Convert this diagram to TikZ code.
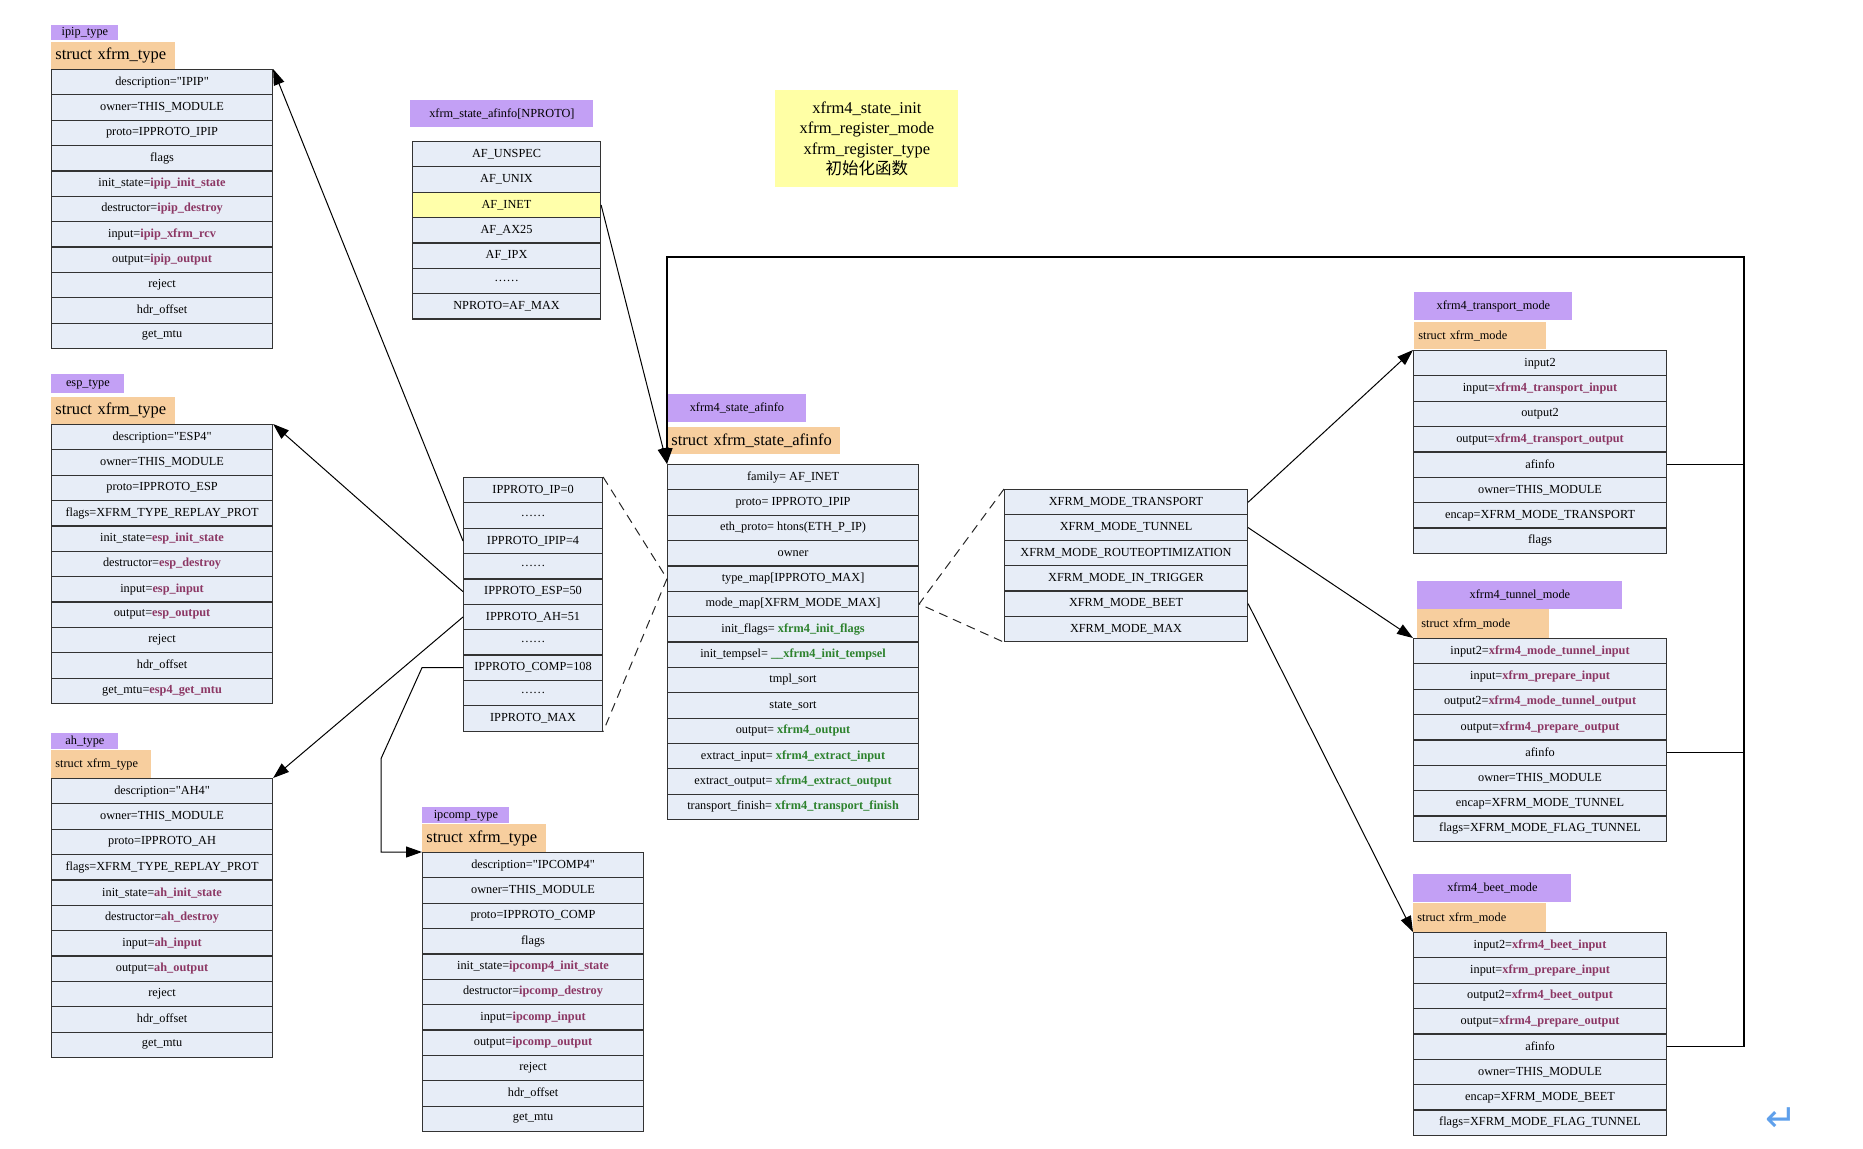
\documentclass[tikz,border=0pt]{standalone}
\usepackage{fontspec}
\setmainfont{Liberation Serif}[Ligatures=TeXOff]
\newfontfamily\cjkf{Noto Sans CJK SC}
\newfontfamily\djvf{DejaVu Sans}
\usetikzlibrary{arrows.meta}
\definecolor{rowc}{RGB}{231,237,247}
\definecolor{lblc}{RGB}{195,160,245}
\definecolor{hdrc}{RGB}{247,206,158}
\definecolor{notec}{RGB}{255,255,165}
\definecolor{hlc}{RGB}{255,255,170}
\definecolor{fnc}{RGB}{140,55,100}
\definecolor{gnc}{RGB}{45,130,45}
\definecolor{retc}{RGB}{95,160,235}
\newcommand\fnx[1]{\textbf{\color{fnc}#1}}
\newcommand\gnx[1]{\textbf{\color{gnc}#1}}
\newcommand\sixdots{……}
\newcommand\myrowfont{\fontsize{6.15pt}{7.2pt}\selectfont}
\newcommand\mybigfont{\fontsize{8.25pt}{10.1pt}\selectfont}
\def\myrowh{25.35}
\tikzset{
  row/.style={draw=black!80, line width=0.55pt, fill=rowc, anchor=north west, inner sep=0pt,
    minimum height={\myrowh*0.5pt}, font=\myrowfont},
  lbl/.style={fill=lblc, anchor=north west, inner sep=0pt, font=\myrowfont},
  hdr/.style={fill=hdrc, anchor=north west, inner xsep=2pt, inner ysep=0pt, align=left},
  conn/.style={draw=black, line width=0.5pt},
  arr/.style={conn, -{Triangle[length=8pt,width=5.5pt]}},
  dsh/.style={draw=black!85, line width=0.5pt, dash pattern=on 4.5pt off 3pt},
  loop/.style={draw=black, line width=0.6pt},
}
\newcommand\mktable[5]{\foreach \txt [count=\i] in {#5} {\node[row, minimum width={(#3-#2)*0.5pt}] (#1-\i) at (#2,{#4+(\i-1)*\myrowh}) {\txt};}}
\newcommand\mklbl[6]{\node[lbl, minimum width={(#3-#2)*0.5pt}, minimum height={(#5-#4)*0.5pt}] (#1) at (#2,#4) {#6};}
\newcommand\mkhdr[7]{\node[hdr, font=#6, text width={(#3-#2-8)*0.5pt}, minimum height={(#5-#4)*0.5pt}] (#1) at (#2,#4) {#7};}
\begin{document}
\catcode`\_=12
\begin{tikzpicture}[x=0.5pt, y=-0.5pt]
\useasboundingbox (0,0) rectangle (1863,1148);

% ---------- ipip ----------
\mklbl{ipipL}{51}{118}{25}{40}{ipip_type}
\mkhdr{ipipH}{51}{175}{42}{69}{\mybigfont}{struct xfrm_type}
\mktable{ipip}{51}{272}{69}{description="IPIP", owner=THIS_MODULE, proto=IPPROTO_IPIP, flags,
  init_state=\fnx{ipip_init_state}, destructor=\fnx{ipip_destroy}, input=\fnx{ipip_xfrm_rcv},
  output=\fnx{ipip_output}, reject, hdr_offset, get_mtu}

% ---------- esp ----------
\mklbl{espL}{51}{124}{374}{393}{esp_type}
\mkhdr{espH}{51}{175}{397}{424}{\mybigfont}{struct xfrm_type}
\mktable{esp}{51}{272}{424}{description="ESP4", owner=THIS_MODULE, proto=IPPROTO_ESP, flags=XFRM_TYPE_REPLAY_PROT,
  init_state=\fnx{esp_init_state}, destructor=\fnx{esp_destroy}, input=\fnx{esp_input},
  output=\fnx{esp_output}, reject, hdr_offset, get_mtu=\fnx{esp4_get_mtu}}

% ---------- ah ----------
\mklbl{ahL}{51}{118}{733}{749}{ah_type}
\mkhdr{ahH}{51}{151}{750}{778}{\myrowfont}{struct xfrm_type}
\mktable{ah}{51}{272}{778}{description="AH4", owner=THIS_MODULE, proto=IPPROTO_AH, flags=XFRM_TYPE_REPLAY_PROT,
  init_state=\fnx{ah_init_state}, destructor=\fnx{ah_destroy}, input=\fnx{ah_input},
  output=\fnx{ah_output}, reject, hdr_offset, get_mtu}

% ---------- ipcomp ----------
\mklbl{ipcL}{422}{509}{807}{823}{ipcomp_type}
\mkhdr{ipcH}{422}{546}{824}{852}{\mybigfont}{struct xfrm_type}
\mktable{ipc}{422}{643}{852}{description="IPCOMP4", owner=THIS_MODULE, proto=IPPROTO_COMP, flags,
  init_state=\fnx{ipcomp4_init_state}, destructor=\fnx{ipcomp_destroy}, input=\fnx{ipcomp_input},
  output=\fnx{ipcomp_output}, reject, hdr_offset, get_mtu}

% ---------- xfrm_state_afinfo[NPROTO] ----------
\mklbl{afL}{410}{593}{100}{127}{xfrm_state_afinfo[NPROTO]}
\foreach \txt/\fc [count=\i] in {AF_UNSPEC/rowc, AF_UNIX/rowc, AF_INET/hlc, AF_AX25/rowc, AF_IPX/rowc, \sixdots/rowc, NPROTO=AF_MAX/rowc}
  {\node[row, fill=\fc, minimum width={(600-412)*0.5pt}] (af-\i) at (412,{141+(\i-1)*\myrowh}) {\txt};}

% ---------- note ----------
\node[fill=notec, anchor=north west, inner sep=0pt, minimum width={(958-775)*0.5pt}, minimum height={(187-90)*0.5pt},
  align=center, font=\mybigfont] (note) at (775,90)
  {xfrm4_state_init\\xfrm_register_mode\\xfrm_register_type\\{\cjkf 初始化函数}};

% ---------- IPPROTO array ----------
\mktable{ipp}{463}{602}{477}{IPPROTO_IP=0, \sixdots, IPPROTO_IPIP=4, \sixdots, IPPROTO_ESP=50, IPPROTO_AH=51,
  \sixdots, IPPROTO_COMP=108, \sixdots, IPPROTO_MAX}

% ---------- xfrm4_state_afinfo ----------
\mklbl{saL}{667}{806}{394}{422}{xfrm4_state_afinfo}
\mkhdr{saH}{667}{840}{427}{454}{\mybigfont}{struct xfrm_state_afinfo}
\mktable{sa}{667}{918}{464}{family= AF_INET, proto= IPPROTO_IPIP, eth_proto= htons(ETH_P_IP), owner,
  type_map[IPPROTO_MAX], mode_map[XFRM_MODE_MAX], init_flags= \gnx{xfrm4_init_flags},
  init_tempsel= \gnx{__xfrm4_init_tempsel}, tmpl_sort, state_sort, output= \gnx{xfrm4_output},
  extract_input= \gnx{xfrm4_extract_input}, extract_output= \gnx{xfrm4_extract_output},
  transport_finish= \gnx{xfrm4_transport_finish}}

% ---------- XFRM_MODE array ----------
\mktable{xm}{1004}{1247}{489}{XFRM_MODE_TRANSPORT, XFRM_MODE_TUNNEL, XFRM_MODE_ROUTEOPTIMIZATION,
  XFRM_MODE_IN_TRIGGER, XFRM_MODE_BEET, XFRM_MODE_MAX}

% ---------- transport mode ----------
\mklbl{tmL}{1414}{1572}{292}{320}{xfrm4_transport_mode}
\mkhdr{tmH}{1414}{1546}{322}{349}{\myrowfont}{struct xfrm_mode}
\mktable{tm}{1413}{1666}{350}{input2, input=\fnx{xfrm4_transport_input}, output2, output=\fnx{xfrm4_transport_output},
  afinfo, owner=THIS_MODULE, encap=XFRM_MODE_TRANSPORT, flags}

% ---------- tunnel mode ----------
\mklbl{tnL}{1417}{1622}{581}{609}{xfrm4_tunnel_mode}
\mkhdr{tnH}{1417}{1549}{609}{638}{\myrowfont}{struct xfrm_mode}
\mktable{tn}{1413}{1666}{638}{input2=\fnx{xfrm4_mode_tunnel_input}, input=\fnx{xfrm_prepare_input},
  output2=\fnx{xfrm4_mode_tunnel_output}, output=\fnx{xfrm4_prepare_output},
  afinfo, owner=THIS_MODULE, encap=XFRM_MODE_TUNNEL, flags=XFRM_MODE_FLAG_TUNNEL}

% ---------- beet mode ----------
\mklbl{bmL}{1413}{1571}{874}{902}{xfrm4_beet_mode}
\mkhdr{bmH}{1413}{1546}{903}{932}{\myrowfont}{struct xfrm_mode}
\mktable{bm}{1413}{1666}{932}{input2=\fnx{xfrm4_beet_input}, input=\fnx{xfrm_prepare_input},
  output2=\fnx{xfrm4_beet_output}, output=\fnx{xfrm4_prepare_output},
  afinfo, owner=THIS_MODULE, encap=XFRM_MODE_BEET, flags=XFRM_MODE_FLAG_TUNNEL}

% ---------- return mark ----------
\node[text=retc, inner sep=0pt, font={\djvf\fontsize{19pt}{19pt}\selectfont}] (ret) at (1781,1120) {↵};

% ---------- connectors ----------
\draw[arr] (ipp-3.west) -- (ipip-1.north east);
\draw[arr] (ipp-5.west) -- (esp-1.north east);
\draw[arr] (ipp-6.west) -- (ah-1.north east);
\draw[arr] (ipp-8.west) -- ++(-41,0) -- ++(-41,91) |- (ipc-1.north west);

\draw[dsh] (ipp-1.north east) -- (sa-5.west) -- (ipp-10.south east);
\draw[dsh] (xm-1.north west) -- (sa-6.east) -- (xm-6.south west);

\draw[arr] (af-3.east) -- (sa-1.north west);

\coordinate (loopR) at (1744,257);
\draw[loop, -{Triangle[length=8pt,width=5.5pt]}] (bm-5.east) -| (loopR) -| (sa-1.north west);
\draw[loop] (tm-5.east) -- (tm-5.east -| loopR);
\draw[loop] (tn-5.east) -- (tn-5.east -| loopR);

\draw[arr] (xm-1.east) -- (tm-1.north west);
\draw[arr] (xm-2.east) -- (tn-1.north west);
\draw[arr] (xm-5.east) -- (bm-1.north west);
\end{tikzpicture}
\end{document}
